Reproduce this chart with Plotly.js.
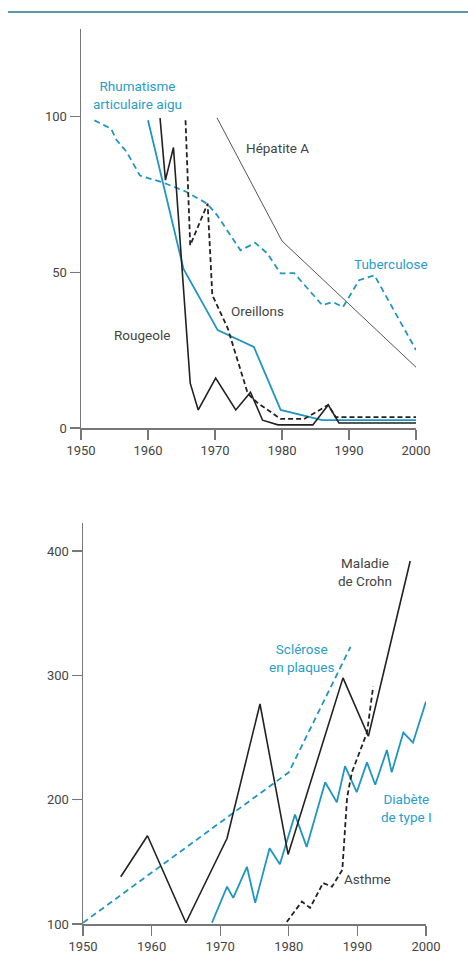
<!DOCTYPE html>
<html>
<head>
<meta charset="utf-8">
<script src="https://cdn.plot.ly/plotly-3.0.1.min.js"></script>
<style>html,body{margin:0;padding:0;background:#fff;}#chart{width:468px;height:957px;}</style>
</head>
<body>
<div id="chart"></div>
<script>
// ---- Top panel data ----
var tbYears = [1952, 1954.5, 1955.3, 1956.8, 1958.8, 1962.3, 1965.7, 1968.8, 1970.3, 1973.8, 1976, 1977.8, 1979.8, 1981.8, 1986, 1987.6, 1989.1, 1991.5, 1993.8, 2000];
var tbVals  = [98.7, 96, 92.4, 88.6, 81, 78.7, 75.8, 72, 68.3, 57, 59.4, 56, 49.6, 49.7, 39.4, 40.4, 38.8, 47.4, 49, 25];

var hepYears = [1970.3, 1980, 2000];
var hepVals  = [99.5, 60, 19.5];

var rhumYears = [1960, 1965.3, 1970.4, 1975.8, 1979.8, 1984.6, 1986, 2000];
var rhumVals  = [98.7, 51, 31.4, 26, 5.8, 3.2, 2.5, 2.5];

var rougYears = [1961.8, 1962.6, 1963.8, 1966.3, 1967.5, 1970.1, 1973.1, 1975.3, 1977.1, 1979.4, 1984.6, 1986.9, 1988.5, 2000];
var rougVals  = [99.4, 79.5, 90, 14.4, 5.8, 16, 5.8, 11.5, 2.5, 1, 1, 7.4, 1.6, 1.6];

var oreiYears = [1965.6, 1966.3, 1968.9, 1969.6, 1971.9, 1974.9, 1976.4, 1979.8, 1983.3, 1986.9, 1988, 2000];
var oreiVals  = [98.7, 58.6, 72, 42.6, 32, 11, 8, 2.9, 2.9, 7.4, 3.5, 3.5];

var topXTicks = [1950, 1960, 1970, 1980, 1990, 2000];
var topYTicks = [0, 50, 100];

// ---- Bottom panel data ----
var crohnYears = [1955.5, 1959.4, 1965, 1971, 1975.8, 1979.9, 1987.9, 1991.6, 1997.7];
var crohnVals  = [138, 171, 101, 169, 277, 156, 298, 251, 392];

var scleYears = [1950, 1980, 1989];
var scleVals  = [101, 222, 323];

var diabYears = [1968.8, 1971, 1971.9, 1973.9, 1975.1, 1977.2, 1978.7, 1980.9, 1982.6, 1985.3, 1987, 1988.2, 1989.9, 1991.4, 1992.6, 1994.3, 1995, 1996.7, 1998.1, 2000];
var diabVals  = [101, 130, 121, 146, 117, 161, 148, 188, 162, 214, 198, 227, 206, 230, 212, 240, 222, 254, 246, 279];

var asthYears = [1979.7, 1981.9, 1983.1, 1985, 1986.3, 1987.8, 1988.5, 1989.2, 1991.4, 1992.3];
var asthVals  = [101.6, 118, 113, 133, 130, 143.5, 202, 222, 254, 291];

var botXTicks = [1950, 1960, 1970, 1980, 1990, 2000];
var botYTicks = [100, 200, 300, 400];

var TEAL = '#1f96bf';
var BLACK = '#222222';
var GREY = '#555555';
var LABEL_DARK = '#444444';
var LABEL_TEAL = '#2a9dc8';
var FONT = 'Roboto, "Liberation Sans", sans-serif';

function line(x, y, color, width, dash, xa, ya) {
  return {x: x, y: y, type: 'scatter', mode: 'lines', xaxis: xa, yaxis: ya,
          line: {color: color, width: width, dash: dash}, hoverinfo: 'skip', showlegend: false};
}

var traces = [
  line(hepYears, hepVals, GREY, 1, 'solid', 'x', 'y'),
  line(tbYears, tbVals, TEAL, 1.8, '6px,4px', 'x', 'y'),
  line(rhumYears, rhumVals, TEAL, 1.8, 'solid', 'x', 'y'),
  line(oreiYears, oreiVals, BLACK, 1.8, '5px,3px', 'x', 'y'),
  line(rougYears, rougVals, BLACK, 1.6, 'solid', 'x', 'y'),
  line(scleYears, scleVals, TEAL, 1.8, '6px,4px', 'x2', 'y2'),
  line(diabYears, diabVals, TEAL, 1.8, 'solid', 'x2', 'y2'),
  line(crohnYears, crohnVals, BLACK, 1.6, 'solid', 'x2', 'y2'),
  line(asthYears, asthVals, BLACK, 1.8, '5px,3px', 'x2', 'y2')
];

function ax(domain, range, ticks, anchor) {
  return {domain: domain, range: range, tickvals: ticks, ticktext: ticks.map(String),
          anchor: anchor, showgrid: false, zeroline: false, showline: true,
          linecolor: '#777', linewidth: 1.5, ticks: 'outside', ticklen: 10,
          tickcolor: '#777', tickwidth: 1.2, fixedrange: true,
          tickfont: {family: FONT, size: 13, color: '#444'}};
}

function lab(text, x, y, color, xr, yr) {
  return {text: text, x: x, y: y, xref: xr, yref: yr, showarrow: false,
          font: {family: FONT, size: 13.5, color: color}, xanchor: 'center', yanchor: 'middle', align: 'center'};
}

var layout = {
  width: 468, height: 957,
  margin: {l: 0, r: 0, t: 0, b: 0},
  paper_bgcolor: '#fff', plot_bgcolor: 'rgba(0,0,0,0)',
  showlegend: false,
  xaxis: ax([81/468, 416/468], [1950, 2000], topXTicks, 'y'),
  yaxis: ax([(957-428)/957, (957-29)/957], [0, 128], topYTicks, 'x'),
  xaxis2: ax([83/468, 426/468], [1950, 2000], botXTicks, 'y2'),
  yaxis2: ax([(957-924)/957, (957-523)/957], [100, 422.6], botYTicks, 'x2'),
  shapes: [
    {type: 'line', xref: 'paper', yref: 'paper', x0: 8/468, x1: 1, y0: (957-12)/957, y1: (957-12)/957,
     line: {color: '#5b9aab', width: 2}}
  ],
  annotations: [
    lab('Rhumatisme<br>articulaire aigu', 1958.4, 106.7, LABEL_TEAL, 'x', 'y'),
    lab('Hépatite A', 1979.3, 89.8, LABEL_DARK, 'x', 'y'),
    lab('Tuberculose', 1996.3, 52.6, LABEL_TEAL, 'x', 'y'),
    lab('Oreillons', 1976.3, 37.5, LABEL_DARK, 'x', 'y'),
    lab('Rougeole', 1959.1, 29.8, LABEL_DARK, 'x', 'y'),
    lab('Maladie<br>de Crohn', 1991.1, 382.8, LABEL_DARK, 'x2', 'y2'),
    lab('Sclérose<br>en plaques', 1981.8, 314, LABEL_TEAL, 'x2', 'y2'),
    lab('Diabète<br>de type I', 1997.2, 193.7, LABEL_TEAL, 'x2', 'y2'),
    lab('Asthme', 1991.4, 136.2, LABEL_DARK, 'x2', 'y2')
  ]
};

Plotly.newPlot('chart', traces, layout, {displayModeBar: false, staticPlot: true});
</script>
</body>
</html>
